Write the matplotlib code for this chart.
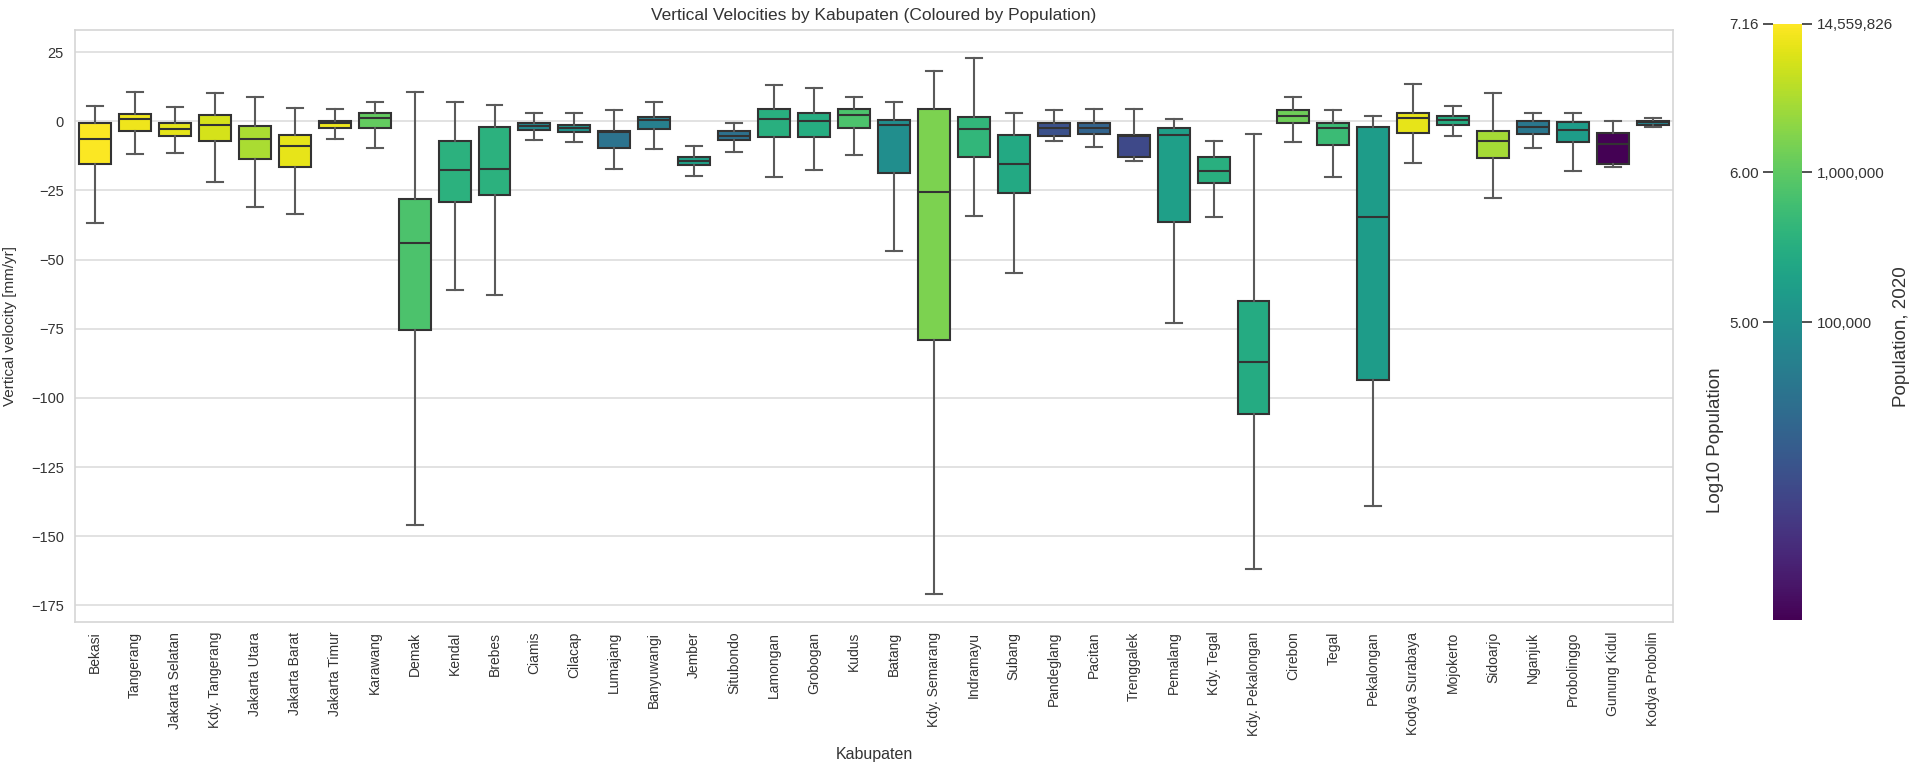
import numpy as np
import matplotlib
matplotlib.use('Agg')
import matplotlib.pyplot as plt
from matplotlib import cm, colors

plt.rcParams['font.family'] = ['Liberation Sans', 'DejaVu Sans']

# Box statistics per kabupaten, mm/yr
kabupaten = ['Bekasi', 'Tangerang', 'Jakarta Selatan', 'Kdy. Tangerang', 'Jakarta Utara',
             'Jakarta Barat', 'Jakarta Timur', 'Karawang', 'Demak', 'Kendal', 'Brebes',
             'Ciamis', 'Cilacap', 'Lumajang', 'Banyuwangi', 'Jember', 'Situbondo',
             'Lamongan', 'Grobogan', 'Kudus', 'Batang', 'Kdy. Semarang', 'Indramayu',
             'Subang', 'Pandeglang', 'Pacitan', 'Trenggalek', 'Pemalang', 'Kdy. Tegal',
             'Kdy. Pekalongan', 'Cirebon', 'Tegal', 'Pekalongan', 'Kodya Surabaya',
             'Mojokerto', 'Sidoarjo', 'Nganjuk', 'Probolinggo', 'Gunung Kidul',
             'Kodya Probolin']
whis_hi = [5.4, 10.6, 5.1, 10.2, 8.7, 4.9, 4.5, 6.9, 10.6, 6.9, 5.8,
           2.9, 2.8, 3.9, 7.0, -8.8, -0.7, 13.0, 12.0, 8.7, 7.0, 18.0, 22.9,
           2.8, 3.9, 4.5, 4.5, 0.7, -7.0, -4.6, 8.7, 3.9, 2.0, 13.6,
           5.4, 10.2, 3.0, 3.0, 0.0, 1.0]
q3 = [-0.6, 2.6, -0.6, 2.3, -1.9, -5.1, 0.2, 3.0, -28.2, -7.0, -2.2,
      -0.6, -1.2, -3.4, 1.6, -12.9, -3.6, 4.5, 2.8, 4.3, 0.6, 4.5, 1.4,
      -5.1, -0.6, -0.7, -5.1, -2.4, -12.9, -65.0, 4.2, -0.6, -2.2, 3.1,
      2.0, -3.6, 0.1, -0.2, -4.2, 0.2]
median = [-6.4, 0.7, -2.8, -1.4, -6.4, -8.8, -0.8, 1.3, -43.9, -17.8, -17.2,
          -1.9, -2.4, -4.0, 0.4, -14.4, -5.3, 0.7, 0.0, 2.2, -1.2, -25.5, -2.8,
          -15.3, -2.4, -2.6, -5.4, -5.1, -18.1, -87.0, 2.0, -2.6, -34.7, 1.2,
          0.6, -7.2, -2.2, -3.2, -8.2, -0.4]
q1 = [-15.3, -3.6, -5.2, -7.3, -13.8, -16.6, -2.5, -2.3, -75.5, -29.1, -26.8,
      -3.2, -3.9, -9.6, -3.0, -15.9, -6.9, -5.7, -5.8, -2.6, -18.9, -79.0, -12.9,
      -26.1, -5.2, -4.6, -12.9, -36.3, -22.5, -106.0, -0.8, -8.7, -93.5, -4.3,
      -1.3, -13.2, -4.5, -7.5, -15.4, -1.2]
whis_lo = [-36.7, -12.0, -11.4, -21.9, -31.0, -33.7, -6.4, -9.6, -146.0, -61.0, -63.0,
           -6.7, -7.7, -17.4, -10.1, -19.7, -11.0, -20.1, -17.8, -12.3, -47.0, -171.0, -34.3,
           -55.0, -7.2, -9.4, -14.4, -73.0, -34.7, -162.0, -7.6, -20.1, -139.0, -15.2,
           -5.5, -27.7, -9.6, -18.1, -16.6, -2.2]
# log10 of 2020 population per kabupaten
log_pop = [6.97, 6.89, 6.82, 6.74, 6.49, 6.84, 6.87, 6.04, 5.87, 5.56, 5.56,
           4.89, 5.08, 4.53, 4.73, 5.28, 4.49, 5.52, 5.48, 5.87, 4.97, 6.20, 5.64,
           5.41, 4.01, 4.29, 3.90, 5.24, 5.52, 5.45, 6.12, 5.72, 5.20, 6.84,
           5.48, 6.45, 4.60, 5.20, 3.02, 4.81]

log_min = 3.02
log_max = 6.99
pop_max = 14559826
cbar_ticks = [5.0, 6.0, log_max]
cbar_labels = ['5.00', '6.00', '%.2f' % np.log10(pop_max)]
pop_labels = ['100,000', '1,000,000', '{:,}'.format(pop_max)]

fig = plt.figure(figsize=(19.15, 7.66), dpi=100)
ax = fig.add_axes([0.0392, 0.188, 0.8344, 0.773])

norm = colors.Normalize(vmin=log_min, vmax=log_max)
cmap = plt.get_cmap('viridis')

stats = []
for i in range(len(kabupaten)):
    stats.append({'med': median[i], 'q1': q1[i], 'q3': q3[i],
                  'whislo': whis_lo[i], 'whishi': whis_hi[i], 'fliers': []})

bp = ax.bxp(stats, positions=np.arange(len(kabupaten)), widths=0.8,
            patch_artist=True, showfliers=False,
            boxprops=dict(edgecolor='#333333', linewidth=1.5),
            medianprops=dict(color='#333333', linewidth=1.5),
            whiskerprops=dict(color='#5a5a5a', linewidth=1.5),
            capprops=dict(color='#5a5a5a', linewidth=1.5))
for patch, lp in zip(bp['boxes'], log_pop):
    patch.set_facecolor(cmap(norm(lp)))

ax.set_xlim(-0.5, len(kabupaten) - 0.5)
ax.set_ylim(-181, 33)
ax.set_xticks(np.arange(len(kabupaten)))
ax.set_xticklabels(kabupaten, rotation=90, fontsize=10, color='#333333')
ax.set_yticks([25, 0, -25, -50, -75, -100, -125, -150, -175])
ax.tick_params(axis='y', labelsize=10.5, labelcolor='#333333', length=0, pad=8)
ax.tick_params(axis='x', length=0, pad=7)
ax.yaxis.grid(True, color='#dddddd', linewidth=1.2)
ax.xaxis.grid(False)
ax.set_axisbelow(True)
for s in ax.spines.values():
    s.set_color('#d5d5d5')
    s.set_linewidth(1.2)

ax.set_title('Vertical Velocities by Kabupaten (Coloured by Population)',
             fontsize=12.5, color='#333333', pad=7)
ax.set_xlabel('Kabupaten', fontsize=11.5, color='#333333', labelpad=8)
ax.set_ylabel('Vertical velocity [mm/yr]', fontsize=11, color='#333333', labelpad=10)

# colour bar with log10 ticks on the left and population on the right
cax = fig.add_axes([0.926, 0.191, 0.015, 0.778])
sm = cm.ScalarMappable(norm=norm, cmap=cmap)
cb = fig.colorbar(sm, cax=cax)
cb.outline.set_visible(False)
cax.yaxis.set_ticks_position('left')
cax.set_yticks(cbar_ticks)
cax.set_yticklabels(cbar_labels)
cax.tick_params(axis='y', labelsize=11, labelcolor='#333333', length=7, width=1.2, color='#333333')

cax2 = cax.twinx()
cax2.set_ylim(log_min, log_max)
cax2.set_yticks(cbar_ticks)
cax2.set_yticklabels(pop_labels)
cax2.tick_params(axis='y', labelsize=11, labelcolor='#333333', length=7, width=1.2, color='#333333')
for s in cax2.spines.values():
    s.set_visible(False)

fig.text(0.896, 0.425, 'Log10 Population', rotation=90, ha='center', va='center',
         fontsize=13.5, color='#333333')
fig.text(0.993, 0.56, 'Population, 2020', rotation=90, ha='center', va='center',
         fontsize=13.5, color='#333333')

fig.savefig('out.png', dpi=100)
